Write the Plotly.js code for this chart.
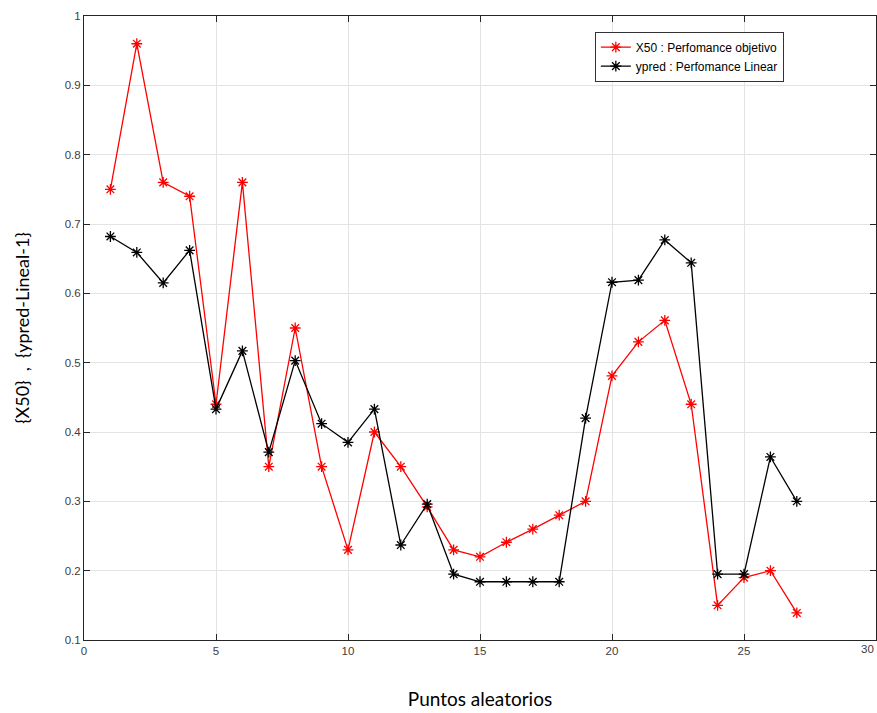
<!DOCTYPE html>
<html><head><meta charset="utf-8">
<script src="https://cdn.plot.ly/plotly-3.0.1.min.js"></script>
<style>body{margin:0;padding:0;background:#fff}#chart{width:877px;height:713px}</style>
</head><body><div id="chart"></div>
<script>
const xPoints = [1,2,3,4,5,6,7,8,9,10,11,12,13,14,15,16,17,18,19,20,21,22,23,24,25,26,27];
const x50Objetivo = [0.75,0.96,0.76,0.74,0.44,0.76,0.35,0.55,0.35,0.23,0.40,0.35,0.292,0.23,0.22,0.241,0.26,0.28,0.30,0.481,0.53,0.561,0.44,0.15,0.19,0.20,0.139];
const ypredLinear = [0.682,0.659,0.615,0.662,0.433,0.517,0.371,0.503,0.412,0.385,0.433,0.237,0.296,0.195,0.184,0.184,0.184,0.184,0.42,0.616,0.619,0.677,0.644,0.195,0.195,0.364,0.30];
const seriesNames = ['X50 : Perfomance objetivo','ypred : Perfomance Linear'];
const xTicks = [0,5,10,15,20,25,30];
const yTicks = [0.1,0.2,0.3,0.4,0.5,0.6,0.7,0.8,0.9,1];
const yTickText = ['0.1','0.2','0.3','0.4','0.5','0.6','0.7','0.8','0.9','1'];

const tickFont = {family:'Liberation Sans, Arial, sans-serif',size:11.5,color:'#404040'};
const traces = [
  {x:xPoints,y:x50Objetivo,name:seriesNames[0],type:'scatter',mode:'lines+markers',
   line:{color:'#ff0000',width:1.3},marker:{symbol:'asterisk-open',size:9,color:'#ff0000',line:{color:'#ff0000',width:1.3}}},
  {x:xPoints,y:ypredLinear,name:seriesNames[1],type:'scatter',mode:'lines+markers',
   line:{color:'#000000',width:1.3},marker:{symbol:'asterisk-open',size:9,color:'#000000',line:{color:'#000000',width:1.3}}}
];
const axisCommon = {showline:true,linecolor:'#262626',linewidth:1,mirror:'ticks',ticks:'inside',ticklen:6,tickcolor:'#262626',
  showgrid:true,gridcolor:'#e3e3e3',gridwidth:1,zeroline:false,tickfont:tickFont};
const layout = {
  width:877,height:713,paper_bgcolor:'#fff',plot_bgcolor:'#fff',
  margin:{l:84,r:1,t:16,b:73},
  showlegend:true,
  legend:{x:0.645,y:0.975,xanchor:'left',yanchor:'top',bgcolor:'#fff',bordercolor:'#333',borderwidth:1,
    font:{family:'Liberation Sans, Arial, sans-serif',size:12,color:'#000'},tracegroupgap:0},
  xaxis:Object.assign({},axisCommon,{range:[0,30],tickvals:xTicks,ticktext:xTicks.map(String),
    title:{text:'Puntos aleatorios',font:{family:'Lato, Open Sans, sans-serif',size:19,color:'#000'},standoff:36}}),
  yaxis:Object.assign({},axisCommon,{range:[0.1,1],tickvals:yTicks,ticktext:yTickText,
    title:{text:'{X50}  ,  {ypred-Lineal-1}',font:{family:'Lato, Open Sans, sans-serif',size:18,color:'#000'},standoff:30}}),
  annotations:[{xref:'x',yref:'paper',x:xTicks[xTicks.length-1],y:0,yshift:-1,xanchor:'right',yanchor:'top',
    text:String(xTicks[xTicks.length-1]),showarrow:false,font:tickFont}]
};
Plotly.newPlot('chart',traces,layout,{displayModeBar:false,staticPlot:true});
</script></body></html>
